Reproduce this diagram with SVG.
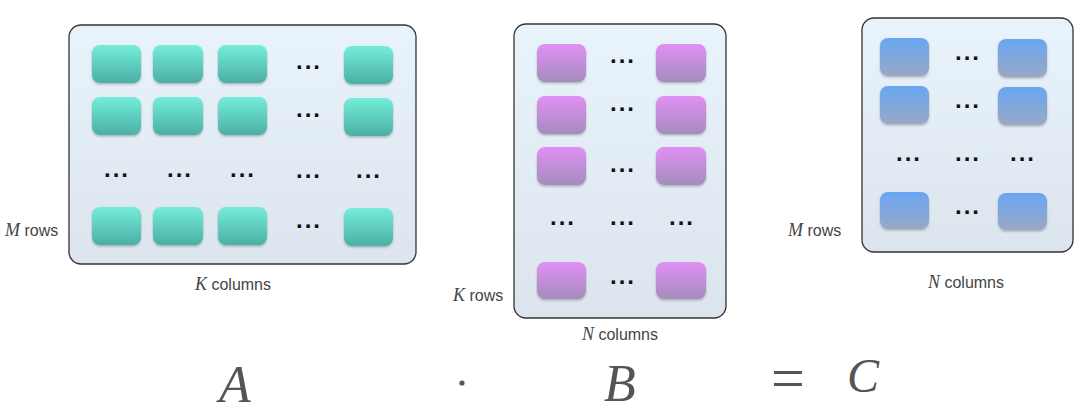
<svg xmlns="http://www.w3.org/2000/svg" width="1080" height="411" viewBox="0 0 1080 411">
<defs>
<linearGradient id="gBox" x1="0" y1="0" x2="0" y2="1"><stop offset="0" stop-color="#E9F3FC"/><stop offset="1" stop-color="#DCE5ED"/></linearGradient>
<linearGradient id="gTeal" x1="0" y1="0" x2="0" y2="1"><stop offset="0" stop-color="#74EDD8"/><stop offset="1" stop-color="#4BAFA6"/></linearGradient>
<linearGradient id="gPurp" x1="0" y1="0" x2="0" y2="1"><stop offset="0" stop-color="#E190F4"/><stop offset="1" stop-color="#A48CBD"/></linearGradient>
<linearGradient id="gBlue" x1="0" y1="0" x2="0" y2="1"><stop offset="0" stop-color="#68A6F2"/><stop offset="1" stop-color="#9AA8C6"/></linearGradient>
<filter id="sh" x="-20%" y="-20%" width="140%" height="150%"><feDropShadow dx="0" dy="1.5" stdDeviation="1.2" flood-color="#000" flood-opacity="0.25"/></filter>
</defs>
<style>
.box{fill:url(#gBox);stroke:#333;stroke-width:1.3}
.t{fill:url(#gTeal);filter:url(#sh)}
.p{fill:url(#gPurp);filter:url(#sh)}
.b{fill:url(#gBlue);filter:url(#sh)}
.d{font-family:"Liberation Sans",Arial,sans-serif;font-weight:bold;font-size:24px;letter-spacing:2px;fill:#111}
.lab{font-family:"Liberation Sans",Arial,sans-serif;font-size:16px;fill:#444}
.v{font-family:"Liberation Serif","Times New Roman",serif;font-style:italic;font-size:18px}
.big{font-family:"Liberation Serif","Times New Roman",serif;font-style:italic;font-size:52px;fill:#555;text-anchor:middle}
</style>

<g id="matrixA">
<rect class="box" x="69" y="25" width="347" height="239" rx="12"/>
<rect class="t" x="92" y="45" width="49" height="38" rx="8"/>
<rect class="t" x="153" y="45" width="50" height="38" rx="8"/>
<rect class="t" x="218" y="45" width="49" height="38" rx="8"/>
<rect class="t" x="344" y="46" width="49" height="38" rx="8"/>
<rect class="t" x="92" y="97" width="49" height="38" rx="8"/>
<rect class="t" x="153" y="97" width="50" height="38" rx="8"/>
<rect class="t" x="218" y="97" width="49" height="38" rx="8"/>
<rect class="t" x="344" y="98" width="49" height="38" rx="8"/>
<rect class="t" x="92" y="207" width="49" height="38" rx="8"/>
<rect class="t" x="153" y="207" width="50" height="38" rx="8"/>
<rect class="t" x="218" y="207" width="49" height="38" rx="8"/>
<rect class="t" x="344" y="208" width="49" height="38" rx="8"/>
<text class="d" x="296" y="68.5">...</text>
<text class="d" x="296" y="117">...</text>
<text class="d" x="104" y="177">...</text>
<text class="d" x="167" y="177">...</text>
<text class="d" x="230" y="177">...</text>
<text class="d" x="296" y="177.5">...</text>
<text class="d" x="356" y="177.5">...</text>
<text class="d" x="296" y="228">...</text>
<text class="lab" x="5" y="236"><tspan class="v">M</tspan> rows</text>
<text class="lab" x="233" y="290" text-anchor="middle"><tspan class="v">K</tspan> columns</text>
</g>

<g id="matrixB">
<rect class="box" x="514" y="24" width="212" height="294" rx="12"/>
<rect class="p" x="537" y="44" width="49" height="38" rx="8"/>
<rect class="p" x="656" y="44" width="50" height="38" rx="8"/>
<rect class="p" x="537" y="96" width="49" height="38" rx="8"/>
<rect class="p" x="656" y="96" width="50" height="38" rx="8"/>
<rect class="p" x="537" y="147" width="49" height="38" rx="8"/>
<rect class="p" x="656" y="147" width="50" height="38" rx="8"/>
<rect class="p" x="537" y="262" width="49" height="37" rx="8"/>
<rect class="p" x="656" y="262" width="50" height="37" rx="8"/>
<text class="d" x="610" y="62.5">...</text>
<text class="d" x="610" y="110.5">...</text>
<text class="d" x="610" y="171.5">...</text>
<text class="d" x="550" y="224.5">...</text>
<text class="d" x="610" y="224.5">...</text>
<text class="d" x="669" y="224.5">...</text>
<text class="d" x="610" y="283.5">...</text>
<text class="lab" x="453" y="301"><tspan class="v">K</tspan> rows</text>
<text class="lab" x="620" y="340" text-anchor="middle"><tspan class="v">N</tspan> columns</text>
</g>

<g id="matrixC">
<rect class="box" x="862" y="18" width="211" height="234" rx="12"/>
<rect class="b" x="880" y="38" width="49" height="38" rx="8"/>
<rect class="b" x="998" y="39" width="49" height="38" rx="8"/>
<rect class="b" x="880" y="86" width="49" height="38" rx="8"/>
<rect class="b" x="998" y="87" width="49" height="38" rx="8"/>
<rect class="b" x="880" y="192" width="49" height="37" rx="8"/>
<rect class="b" x="998" y="193" width="49" height="37" rx="8"/>
<text class="d" x="955" y="59.5">...</text>
<text class="d" x="955" y="107.5">...</text>
<text class="d" x="896" y="160.5">...</text>
<text class="d" x="955" y="160.5">...</text>
<text class="d" x="1010" y="160.5">...</text>
<text class="d" x="955" y="213.5">...</text>
<text class="lab" x="788" y="236"><tspan class="v">M</tspan> rows</text>
<text class="lab" x="966" y="288" text-anchor="middle"><tspan class="v">N</tspan> columns</text>
</g>

<g id="equation">
<text class="big" x="235" y="402">A</text>
<circle cx="462" cy="383" r="2.6" fill="#555"/>
<text class="big" x="620" y="401">B</text>
<text class="big" x="788" y="398" style="font-style:normal;font-size:60px">=</text>
<text class="big" x="863" y="392" style="font-size:48px">C</text>
</g>
</svg>
